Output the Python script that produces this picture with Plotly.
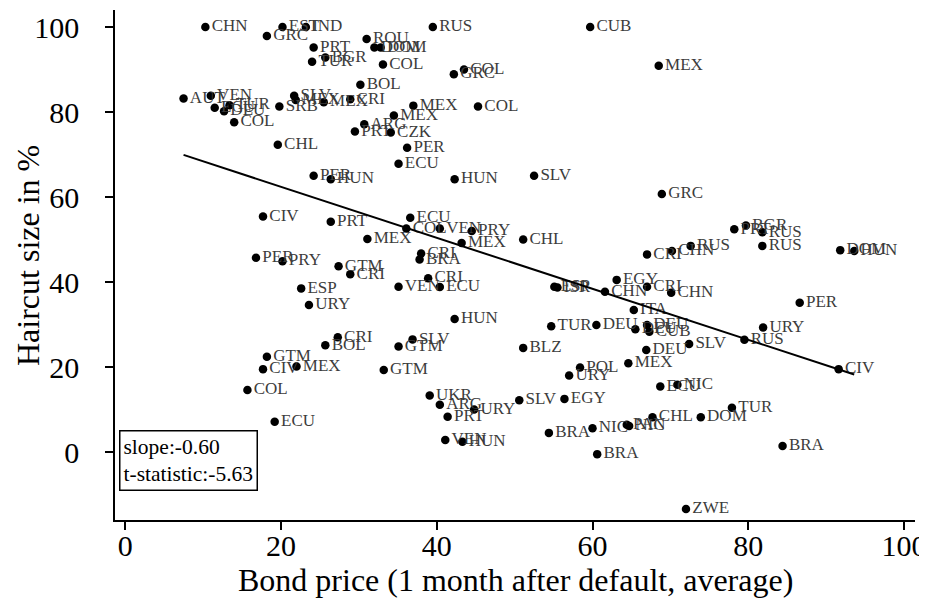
"""
Scatter of sovereign haircut size against post-default bond price.

Each point is one restructuring episode, labelled with the ISO country code,
with the fitted line and a small box holding the slope and t-statistic.
"""

from __future__ import annotations

import numpy as np
import plotly.graph_objects as go

FONT = "Liberation Serif"
LABEL_GREY = "rgb(60,60,60)"

COUNTRIES = [
    "CHN", "EST", "IND", "RUS", "CUB", "GRC", "ROU", "PRT", "DOM", "DOM",
    "BGR", "TUR", "COL", "MEX", "COL", "GRC", "BOL", "AUT", "VEN", "ECU",
    "DEU", "TUR", "COL", "SRB", "SLV", "MEX", "MEX", "CRI", "MEX", "COL",
    "MEX", "ARG", "PRT", "CZK", "CHL", "PER", "ECU", "PER", "HUN", "HUN",
    "SLV", "GRC", "CIV", "PRT", "ECU", "COL", "VEN", "PRY", "MEX", "MEX",
    "CHL", "PRT", "BGR", "RUS", "RUS", "RUS", "CHN", "CRI", "DOM", "HUN",
    "PER", "PRY", "GTM", "CRI", "CRI", "BRA", "CRI", "VEN", "ECU", "ESP",
    "URY", "ESP", "ISR", "CHN", "EGY", "CRI", "CHN", "ITA", "PER", "HUN",
    "TUR", "DEU", "DEU", "DEU", "CUB", "URY", "RUS", "SLV", "DEU", "CRI",
    "BOL", "SLV", "GTM", "BLZ", "GTM", "CIV", "MEX", "GTM", "POL", "URY",
    "MEX", "CIV", "COL", "ECU", "NIC", "UKR", "SLV", "EGY", "ARG", "URY",
    "TUR", "PRT", "CHL", "DOM", "ECU", "PAN", "NIC", "NIC", "BRA", "VEN",
    "HUN", "BRA", "BRA", "ZWE",
]

BOND_PRICE = [
    10.3, 20.2, 23.2, 39.5, 59.7, 18.2, 31.0, 24.2, 32.0, 32.8,
    25.7, 24.0, 33.1, 68.5, 43.5, 42.2, 30.2, 7.5, 11.0, 11.5,
    12.7, 13.4, 14.0, 19.8, 21.7, 21.9, 25.5, 28.9, 37.0, 45.3,
    34.5, 30.7, 29.5, 34.1, 19.6, 36.2, 35.1, 24.2, 26.4, 42.3,
    52.5, 68.9, 17.7, 26.4, 36.6, 36.1, 40.4, 44.5, 31.1, 43.2,
    51.1, 78.2, 79.7, 81.8, 81.8, 72.6, 70.2, 67.0, 91.8, 93.6,
    16.8, 20.2, 27.4, 28.9, 38.0, 37.8, 38.9, 35.1, 40.4, 22.6,
    23.6, 55.1, 55.5, 61.6, 63.1, 67.0, 70.1, 65.3, 86.6, 42.3,
    54.7, 60.5, 65.5, 67.0, 67.3, 81.9, 79.5, 72.4, 66.9, 27.3,
    25.7, 36.9, 35.1, 51.1, 18.2, 17.7, 22.0, 33.2, 58.4, 57.0,
    64.6, 91.6, 15.7, 68.7, 70.9, 39.1, 50.6, 56.4, 40.4, 44.8,
    77.9, 41.4, 67.7, 73.9, 19.2, 64.4, 64.7, 60.0, 54.4, 41.1,
    43.3, 84.4, 60.6, 72.0,
]

HAIRCUT = [
    100.0, 100.0, 100.0, 100.0, 100.0, 97.9, 97.2, 95.2, 95.2, 95.2,
    92.8, 91.8, 91.2, 90.9, 90.0, 88.9, 86.4, 83.2, 83.8, 81.0,
    80.2, 81.6, 77.6, 81.3, 83.8, 82.8, 82.3, 83.0, 81.5, 81.3,
    79.2, 77.1, 75.4, 75.2, 72.3, 71.6, 67.8, 65.0, 64.2, 64.2,
    65.0, 60.7, 55.4, 54.2, 55.1, 52.6, 52.6, 52.0, 50.1, 49.2,
    50.0, 52.4, 53.3, 51.7, 48.5, 48.5, 47.3, 46.5, 47.5, 47.3,
    45.7, 44.9, 43.7, 41.8, 46.7, 45.3, 40.9, 38.9, 38.8, 38.5,
    34.6, 38.9, 38.7, 37.7, 40.5, 38.9, 37.5, 33.4, 35.1, 31.3,
    29.6, 29.9, 28.9, 29.9, 28.3, 29.3, 26.4, 25.4, 24.0, 27.0,
    25.1, 26.5, 24.8, 24.5, 22.4, 19.5, 20.1, 19.3, 19.9, 18.0,
    20.9, 19.5, 14.6, 15.4, 15.8, 13.3, 12.2, 12.5, 11.1, 10.0,
    10.4, 8.3, 8.2, 8.2, 7.1, 6.4, 6.1, 5.6, 4.5, 2.8,
    2.4, 1.4, -0.5, -13.4,
]

# Fitted line as reported on the chart (slope printed in the box,
# intercept read off where the line starts)
FIT_SLOPE = -0.60
FIT_INTERCEPT = 74.4

X_TICKS = [0, 20, 40, 60, 80, 100]
Y_TICKS = [0, 20, 40, 60, 80, 100]

X_TITLE = "Bond price (1 month after default, average)"
Y_TITLE = "Haircut size in %"
STATS_TEXT = "slope:-0.60<br>t-statistic:-5.63"


def build_figure() -> go.Figure:
    x = np.asarray(BOND_PRICE)
    y = np.asarray(HAIRCUT)

    fig = go.Figure()

    # Country points with their codes to the right
    fig.add_trace(
        go.Scatter(
            x=x,
            y=y,
            mode="markers+text",
            text=COUNTRIES,
            textposition="middle right",
            textfont=dict(family=FONT, size=17, color=LABEL_GREY),
            marker=dict(color="black", size=8.5),
            cliponaxis=False,
            hoverinfo="text",
        )
    )

    # Fit line across the observed price range
    fit_x = np.array([x.min(), x.max()])
    fig.add_trace(
        go.Scatter(
            x=fit_x,
            y=FIT_INTERCEPT + FIT_SLOPE * fit_x,
            mode="lines",
            line=dict(color="black", width=2),
            hoverinfo="skip",
        )
    )

    fig.add_annotation(
        x=-0.8,
        y=5.1,
        xref="x",
        yref="y",
        xanchor="left",
        yanchor="top",
        text=STATS_TEXT,
        showarrow=False,
        align="left",
        font=dict(family=FONT, size=21.5, color="black"),
        bordercolor="black",
        borderwidth=1.5,
        borderpad=3,
        bgcolor="white",
    )

    # Axis titles placed by hand (Stata-like spacing)
    fig.add_annotation(
        x=0, y=0.5, xref="paper", yref="paper",
        xshift=-87, yshift=9,
        xanchor="center", yanchor="middle",
        text=Y_TITLE, textangle=-90, showarrow=False,
        font=dict(family=FONT, size=32, color="black"),
    )
    fig.add_annotation(
        x=0.5, y=0, xref="paper", yref="paper",
        xshift=0, yshift=-60,
        xanchor="center", yanchor="middle",
        text=X_TITLE, showarrow=False,
        font=dict(family=FONT, size=32, color="black"),
    )

    axis_common = dict(
        showline=True,
        linecolor="black",
        linewidth=1.5,
        ticks="outside",
        ticklen=8,
        tickcolor="black",
        tickwidth=1.5,
        showgrid=False,
        zeroline=False,
        automargin=False,
        tickfont=dict(family=FONT, size=30, color="black"),
    )

    # The page body adds an 8px margin, so the figure is sized to fit inside it
    fig.update_layout(
        width=919,
        height=591,
        paper_bgcolor="white",
        plot_bgcolor="white",
        showlegend=False,
        margin=dict(l=107, r=12, t=2, b=79),
        xaxis=dict(
            range=[-1.3, 101.4],
            tickvals=X_TICKS,
            ticklabelstandoff=-10,
            **axis_common,
        ),
        yaxis=dict(
            range=[-16, 104],
            tickvals=Y_TICKS,
            ticklabelstandoff=20,
            **axis_common,
        ),
    )
    return fig


if __name__ == "__main__":
    fig = build_figure()
    fig.write_html("out.html")
